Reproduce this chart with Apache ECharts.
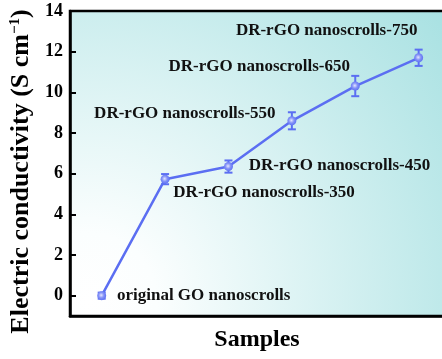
<!DOCTYPE html>
<html>
<head>
<meta charset="utf-8">
<script src="https://cdn.jsdelivr.net/npm/echarts@6/dist/echarts.min.js"></script>
<style>
  html, body { margin: 0; padding: 0; background: #ffffff; }
  #chart { width: 442px; height: 359px; }
</style>
</head>
<body>
<div id="chart"></div>
<script>
// Sample names, in the order they sit along the x axis
const samples = [
  'original GO nanoscrolls',
  'DR-rGO nanoscrolls-350',
  'DR-rGO nanoscrolls-450',
  'DR-rGO nanoscrolls-550',
  'DR-rGO nanoscrolls-650',
  'DR-rGO nanoscrolls-750'
];
// Electric conductivity (S cm^-1) and its error
const conductivity = [0.0, 5.73, 6.35, 8.6, 10.31, 11.7];
const errors = [0.15, 0.25, 0.3, 0.42, 0.5, 0.4];
// Y axis tick labels
const yTicks = [0, 2, 4, 6, 8, 10, 12, 14];

// Label placement around each point (pixel offsets from the marker centre)
const labelOffsets = [
  [102, 0], [99, 13], [111, -1], [-107, -7], [-96, -19], [-92, -27]
];

const FONT = '"Liberation Serif", "Times New Roman", serif';
const BLUE = '#5b6ef2';

const lineData = conductivity.map((v, i) => ({
  value: [i, v],
  label: {
    show: true,
    formatter: samples[i],
    position: 'inside',
    align: 'center',
    verticalAlign: 'middle',
    offset: labelOffsets[i]
  }
}));

const errData = conductivity.map((v, i) => [i, v, errors[i]]);

const chart = echarts.init(document.getElementById('chart'), null, { renderer: 'canvas' });

chart.setOption({
  animation: false,
  grid: {
    left: 70, top: 11, right: -2, bottom: 43,
    outerBoundsMode: 'none',
    show: true,
    borderColor: '#000',
    borderWidth: 2.5,
    backgroundColor: {
      type: 'radial', x: 0.05, y: 0.95, r: 1.5,
      colorStops: [
        { offset: 0, color: '#ffffff' },
        { offset: 0.15, color: '#fbfefe' },
        { offset: 1, color: '#a8e1e2' }
      ]
    }
  },
  xAxis: {
    type: 'value',
    min: -0.5,
    max: 5.4,
    name: 'Samples',
    nameLocation: 'middle',
    nameGap: 12,
    nameTextStyle: { fontFamily: FONT, fontWeight: 'bold', fontSize: 24, color: '#000' },
    axisLine: { show: true, onZero: false, lineStyle: { color: '#000', width: 2.5 } },
    axisTick: { show: false },
    axisLabel: { show: false },
    splitLine: { show: false }
  },
  yAxis: {
    type: 'value',
    min: -1,
    max: 14,
    name: 'Electric conductivity (S cm{sup|−1})',
    nameLocation: 'middle',
    nameGap: 26,
    nameRotate: 90,
    nameTextStyle: {
      fontFamily: FONT, fontWeight: 'bold', fontSize: 26, color: '#000',
      padding: [0, 16, 0, 0],
      rich: {
        sup: { fontFamily: FONT, fontWeight: 'bold', fontSize: 15, color: '#000', verticalAlign: 'top' }
      }
    },
    axisLine: { show: true, onZero: false, lineStyle: { color: '#000', width: 2.5 } },
    axisTick: {
      show: true, inside: true, length: 6,
      customValues: yTicks,
      lineStyle: { color: '#000', width: 2 }
    },
    axisLabel: {
      show: true,
      customValues: yTicks,
      margin: 7,
      fontFamily: FONT, fontWeight: 'bold', fontSize: 18, color: '#000'
    },
    splitLine: { show: false }
  },
  series: [
    {
      type: 'custom',
      z: 1,
      silent: true,
      data: errData,
      renderItem: function (params, api) {
        const x = api.value(0), y = api.value(1), e = api.value(2);
        const top = api.coord([x, y + e]);
        const bot = api.coord([x, y - e]);
        const hw = 4;
        const style = { stroke: BLUE, lineWidth: 2 };
        return {
          type: 'group',
          children: [
            { type: 'line', shape: { x1: top[0], y1: top[1], x2: bot[0], y2: bot[1] }, style: style },
            { type: 'line', shape: { x1: top[0] - hw, y1: top[1], x2: top[0] + hw, y2: top[1] }, style: style },
            { type: 'line', shape: { x1: bot[0] - hw, y1: bot[1], x2: bot[0] + hw, y2: bot[1] }, style: style }
          ]
        };
      }
    },
    {
      type: 'line',
      z: 2,
      data: lineData,
      symbol: 'circle',
      symbolSize: 9,
      showAllSymbol: true,
      lineStyle: { color: BLUE, width: 2.5 },
      itemStyle: {
        color: {
          type: 'radial', x: 0.45, y: 0.45, r: 0.6,
          colorStops: [
            { offset: 0, color: '#e4e6ff' },
            { offset: 0.5, color: '#8391f7' },
            { offset: 1, color: BLUE }
          ]
        }
      },
      label: {
        fontFamily: FONT, fontWeight: 'bold', fontSize: 17, color: '#111'
      }
    }
  ]
});
</script>
</body>
</html>
